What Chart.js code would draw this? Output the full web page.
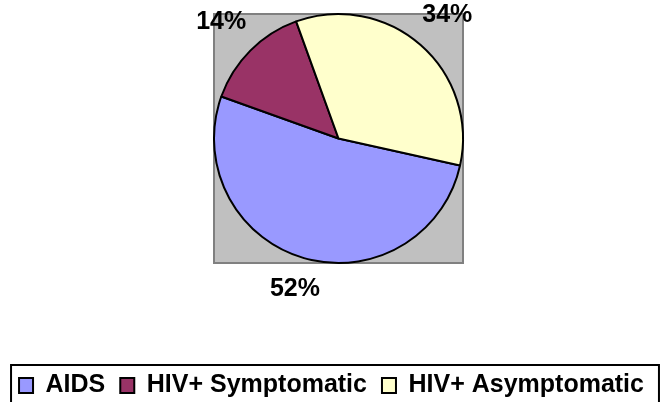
<!DOCTYPE html>
<html>
<head>
<meta charset="utf-8">
<script src="https://cdn.jsdelivr.net/npm/chart.js@4/dist/chart.umd.min.js"></script>
<style>
  html, body { margin: 0; padding: 0; background: #fff; overflow: hidden; }
</style>
</head>
<body>
<canvas id="pieChart" width="663" height="408"></canvas>
<script>
const categories = ['AIDS', 'HIV+ Symptomatic', 'HIV+ Asymptomatic'];
const values = [52, 14, 34];
const sliceColors = ['#9999FF', '#993366', '#FFFFCC'];

const labelFont = 'bold 25px "Liberation Sans", Arial, sans-serif';

// plot area square (grey) like the Excel chart
const plotBox = {
  id: 'plotBox',
  afterLayout(chart) {
    const a = { left: 213, top: 13, right: 464, bottom: 264 };
    a.width = a.right - a.left;
    a.height = a.bottom - a.top;
    chart.chartArea = a;
  },
  beforeDatasetsDraw(chart) {
    const { ctx, chartArea: a } = chart;
    ctx.save();
    ctx.fillStyle = '#C0C0C0';
    ctx.fillRect(a.left, a.top, a.width, a.height);
    ctx.strokeStyle = '#808080';
    ctx.lineWidth = 2;
    ctx.strokeRect(a.left + 1, a.top + 1, a.width - 2, a.height - 2);
    ctx.restore();
  }
};

// percent labels outside the slices, box edge kept at a fixed gap from the rim
const pctLabels = {
  id: 'pctLabels',
  afterDatasetsDraw(chart) {
    const { ctx } = chart;
    const meta = chart.getDatasetMeta(0);
    const total = values.reduce((s, v) => s + v, 0);
    ctx.save();
    ctx.font = labelFont;
    ctx.fillStyle = '#000';
    ctx.textAlign = 'center';
    ctx.textBaseline = 'middle';
    meta.data.forEach((arc, i) => {
      const txt = Math.round(values[i] / total * 100) + '%';
      const hw = ctx.measureText(txt).width / 2, hh = 9;
      const mid = (arc.startAngle + arc.endAngle) / 2;
      const cx = Math.cos(mid), cy = Math.sin(mid);
      const r = arc.outerRadius + 17 + Math.abs(cx) * hw + Math.abs(cy) * hh;
      ctx.fillText(txt, arc.x + cx * r, arc.y + cy * r);
    });
    ctx.restore();
  }
};

// frame around the legend
const legendFrame = {
  id: 'legendFrame',
  afterDraw(chart) {
    const hb = chart.legend.legendHitBoxes;
    if (!hb || !hb.length) return;
    const first = hb[0], last = hb[hb.length - 1];
    const { ctx } = chart;
    ctx.save();
    ctx.strokeStyle = '#000';
    ctx.lineWidth = 2;
    const l = first.left - 8, t = first.top - 8;
    const r = last.left + last.width + 15, b = first.top + first.height + 10;
    ctx.strokeRect(l, t, r - l, b - t);
    ctx.restore();
  }
};

Chart.defaults.color = '#000';

new Chart(document.getElementById('pieChart').getContext('2d'), {
  type: 'pie',
  data: {
    labels: categories,
    datasets: [{
      data: values,
      backgroundColor: sliceColors,
      borderColor: '#000',
      borderWidth: 2
    }]
  },
  options: {
    responsive: false,
    animation: false,
    events: [],
    rotation: 102.5,
    plugins: {
      tooltip: { enabled: false },
      legend: {
        position: 'bottom',
        labels: {
          boxWidth: 14,
          boxHeight: 15,
          padding: 15,
          color: '#000',
          font: { family: '"Liberation Sans", Arial, sans-serif', size: 25, weight: 'bold' }
        }
      }
    }
  },
  plugins: [plotBox, pctLabels, legendFrame]
});
</script>
</body>
</html>
